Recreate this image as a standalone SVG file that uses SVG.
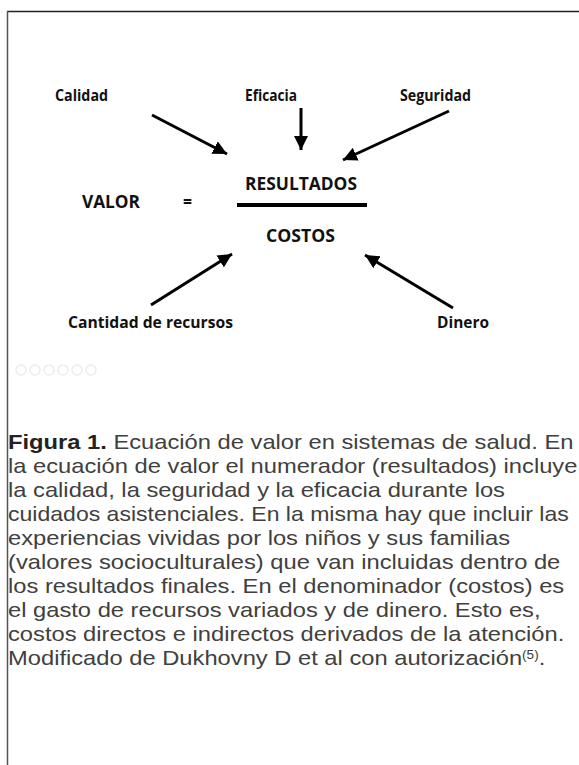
<svg xmlns="http://www.w3.org/2000/svg" width="579" height="765" viewBox="0 0 579 765">
<defs>
<style>
.lbl{font-family:"Open Sans","Liberation Sans",sans-serif;font-weight:700;fill:#111;}
.big{font-family:"Open Sans","Liberation Sans",sans-serif;font-weight:700;fill:#111;font-size:18px;}
.cap{font-family:"Liberation Sans",Arial,sans-serif;font-size:21px;fill:#404040;}
.arr{stroke:#000;stroke-width:3;fill:none;marker-end:url(#ah);}
.dot{fill:none;stroke:#ececec;stroke-width:1.5;}
</style>
<marker id="ah" markerUnits="userSpaceOnUse" markerWidth="16" markerHeight="14" refX="14" refY="7" orient="auto">
<path d="M0,0 L14,7 L0,14 Z" fill="#000"/>
</marker>
</defs>
<rect width="579" height="765" fill="#fff"/>
<g id="frame">
<line x1="7" y1="11.5" x2="579" y2="11.5" stroke="#222" stroke-width="1.5"/>
<line x1="7.5" y1="11" x2="7.5" y2="765" stroke="#555" stroke-width="1.5"/>
</g>
<g id="calidad"><text class="lbl" x="55" y="101" font-size="15.5" textLength="53" lengthAdjust="spacingAndGlyphs">Calidad</text></g>
<g id="eficacia"><text class="lbl" x="245" y="101" font-size="15.5" textLength="52" lengthAdjust="spacingAndGlyphs">Eficacia</text></g>
<g id="seguridad"><text class="lbl" x="400" y="101" font-size="15.5" textLength="71" lengthAdjust="spacingAndGlyphs">Seguridad</text></g>
<g id="valor"><text class="big" x="82" y="208" textLength="58" lengthAdjust="spacingAndGlyphs">VALOR</text></g>
<g id="igual"><text class="big" x="183" y="208" textLength="9" lengthAdjust="spacingAndGlyphs">=</text></g>
<g id="fraccion">
<text class="big" x="245" y="190" textLength="112" lengthAdjust="spacingAndGlyphs">RESULTADOS</text>
<line x1="237" y1="205" x2="367" y2="205" stroke="#000" stroke-width="4"/>
<text class="big" x="266" y="242" textLength="69" lengthAdjust="spacingAndGlyphs">COSTOS</text>
</g>
<g id="cantidad"><text class="lbl" x="68" y="328" font-size="15.5" textLength="165" lengthAdjust="spacingAndGlyphs">Cantidad de recursos</text></g>
<g id="dinero"><text class="lbl" x="437" y="328" font-size="15.5" textLength="52" lengthAdjust="spacingAndGlyphs">Dinero</text></g>
<g id="connectors">
<line class="arr" x1="152" y1="115" x2="227" y2="154"/>
<line class="arr" x1="301" y1="108" x2="301" y2="150"/>
<line class="arr" x1="449" y1="111" x2="343" y2="160"/>
<line class="arr" x1="151" y1="305" x2="232" y2="254"/>
<line class="arr" x1="453" y1="308" x2="365" y2="255"/>
</g>
<g id="controles">
<circle class="dot" cx="21" cy="370" r="5"/>
<circle class="dot" cx="35" cy="370" r="5"/>
<circle class="dot" cx="49" cy="370" r="5"/>
<circle class="dot" cx="63" cy="370" r="5"/>
<circle class="dot" cx="77" cy="370" r="5"/>
<circle class="dot" cx="91" cy="370" r="5"/>
</g>
<g id="caption" class="cap" transform="translate(8,0) scale(1.13,1)">
<text x="0" y="449"><tspan font-weight="700" fill="#222">Figura 1.</tspan> Ecuación de valor en sistemas de salud. En</text>
<text x="0" y="473">la ecuación de valor el numerador (resultados) incluye</text>
<text x="0" y="497">la calidad, la seguridad y la eficacia durante los</text>
<text x="0" y="521" font-size="20.4">cuidados asistenciales. En la misma hay que incluir las</text>
<text x="0" y="545">experiencias vividas por los niños y sus familias</text>
<text x="0" y="569">(valores socioculturales) que van incluidas dentro de</text>
<text x="0" y="593">los resultados finales. En el denominador (costos) es</text>
<text x="0" y="617">el gasto de recursos variados y de dinero. Esto es,</text>
<text x="0" y="641">costos directos e indirectos derivados de la atención.</text>
<text x="0" y="665">Modificado de Dukhovny D et al con autorización<tspan font-size="12" dy="-6">(5)</tspan><tspan dy="6">.</tspan></text>
</g>
</svg>
